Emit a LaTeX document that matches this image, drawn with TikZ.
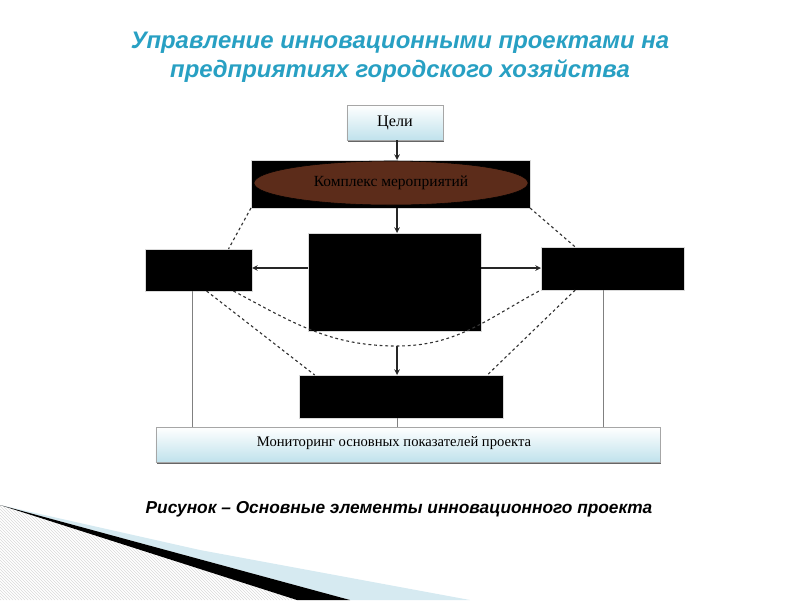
\documentclass[tikz,border=0pt]{standalone}
\usepackage{fontspec}
\setmainfont{Liberation Serif}
\setsansfont{Liberation Sans}
\usepackage{tikz}
\usetikzlibrary{shapes.geometric, arrows, shadows}
\usepackage{xcolor}
\definecolor{titleblue}{RGB}{40,160,195}
\definecolor{paleblue}{RGB}{192,226,236}
\definecolor{bandblue}{RGB}{214,234,241}
\definecolor{darkbrown}{RGB}{92,44,26}
\tikzstyle{arrow} = [->,>=stealth, line width=0.8pt, black!85]
\tikzstyle{link} = [line width=0.5pt, gray]
\tikzstyle{dotlink} = [line width=0.8pt, black!80, dash pattern=on 2pt off 2pt]
\tikzstyle{blackbox} = [rectangle, draw=gray!30, fill=black, inner sep=0pt, outer sep=0pt]
\tikzstyle{bluebox} = [rectangle, draw=gray!70, top color=white, bottom color=paleblue, inner sep=0pt, outer sep=0pt, font=\fontsize{11.5}{13}\selectfont, drop shadow={shadow xshift=0.6pt, shadow yshift=-1.2pt, fill=black!60, opacity=1}]

\begin{document}
\begin{tikzpicture}[x=0.025cm, y=-0.025cm]
\useasboundingbox (0,0) rectangle (800,600);

\begin{scope}
\clip (0,505) -- (297,600) -- (0,600) -- cycle;
\foreach \i in {-120,-117,...,300}
  \draw[gray!30, line width=0.4pt] (\i,500) -- (\i+100,600);
\end{scope}
\fill[bandblue] (0,505) -- (200,550) -- (470,600) -- (350,600) -- cycle;
\fill[black] (0,505) -- (350,600) -- (297,600) -- cycle;

\node (title) [align=center, text=titleblue, font=\sffamily\bfseries\itshape\fontsize{17}{20.5}\selectfont] at (400,57) {Управление инновационными проектами на\\предприятиях городского хозяйства};

\node (goals) [bluebox, minimum width=2.4cm, minimum height=0.875cm] at (395,122.5) {Цели};
\node (complex) [blackbox, minimum width=6.975cm, minimum height=1.2cm] at (390.5,184) {};
\node (oval) [ellipse, draw=black, fill=darkbrown, inner sep=0pt, minimum width=6.85cm, minimum height=1.1cm, text=black, font=\fontsize{11}{13}\selectfont] at (391,183) {Комплекс мероприятий};
\node (core) [blackbox, minimum width=4.325cm, minimum height=2.45cm] at (394.5,282) {};
\node (left) [blackbox, minimum width=2.675cm, minimum height=1.05cm] at (198.5,270) {};
\node (right) [blackbox, minimum width=3.575cm, minimum height=1.075cm] at (612.5,268.5) {};
\node (bottom) [blackbox, minimum width=5.1cm, minimum height=1.075cm] at (401,396.5) {};
\node (monitor) [bluebox, minimum width=12.6cm, minimum height=0.875cm] at (408,444.5) {};
\node (monitortext) [font=\fontsize{10.4}{12}\selectfont] at (394,443) {Мониторинг основных показателей проекта};
\coordinate (dip) at (397,346);

\draw[arrow] (goals.south -| 397,0) -- (complex.north -| 397,0);
\draw[arrow] (complex.south -| 397,0) -- (core.north -| 397,0);
\draw[arrow] (core.west |- 0,268) -- (left.east |- 0,268);
\draw[arrow] (core.east |- 0,268) -- (right.west |- 0,268);
\draw[arrow] (dip) -- (bottom.north -| dip);

\draw[dotlink] (complex.south west) -- (left.35);
\draw[dotlink] (complex.south east) -- (right.150);
\draw[dotlink] (left.-31) to[out=-28, in=180] (dip) to[out=0, in=-152] (right.south west);
\draw[dotlink] (left.-69) -- (bottom.166);
\draw[dotlink] (right.-150) -- (bottom.14);

\draw[link] (left.-107) -- (left.-107 |- monitor.north);
\draw[link] (right.-112) -- (right.-112 |- monitor.north);
\draw[link] (bottom.-100) -- (bottom.-100 |- monitor.north);

\node (caption) [font=\sffamily\bfseries\itshape\fontsize{12.3}{15}\selectfont] at (399,509) {Рисунок – Основные элементы инновационного проекта};

\end{tikzpicture}
\end{document}
